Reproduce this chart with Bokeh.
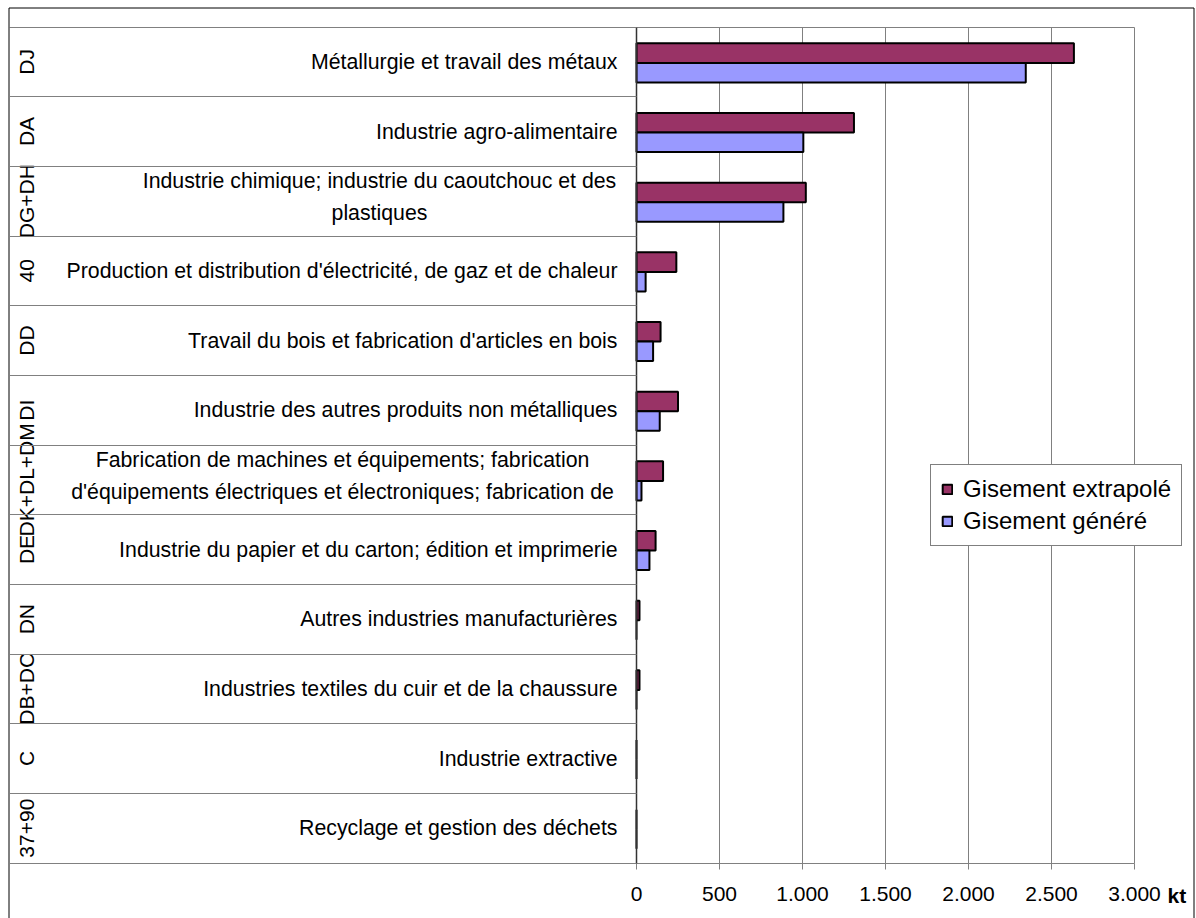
import math
from bokeh.plotting import figure
from bokeh.models import Range1d, LinearAxis, FixedTicker, Grid, ColumnDataSource
from bokeh.core.properties import value
from bokeh.embed import file_html
from bokeh.resources import INLINE

# ---------------- data ----------------
codes = ["DJ", "DA", "DG+DH", "40", "DD", "DI", "DK+DL+DM", "DE", "DN", "DB+DC", "C", "37+90"]
labels = [
    "Métallurgie et travail des métaux",
    "Industrie agro-alimentaire",
    "Industrie chimique; industrie du caoutchouc et des\nplastiques",
    "Production et distribution d'électricité, de gaz et de chaleur",
    "Travail du bois et fabrication d'articles en bois",
    "Industrie des autres produits non métalliques",
    "Fabrication de machines et équipements; fabrication\nd'équipements électriques et électroniques; fabrication de",
    "Industrie du papier et du carton; édition et imprimerie",
    "Autres industries manufacturières",
    "Industries textiles du cuir et de la chaussure",
    "Industrie extractive",
    "Recyclage et gestion des déchets",
]
extrapole = [2635, 1310, 1020, 240, 145, 250, 160, 115, 18, 18, 0, 0]
genere = [2345, 1005, 885, 55, 100, 140, 30, 78, 0, 0, 0, 0]
series_names = ["Gisement extrapolé", "Gisement généré"]
x_ticks = [0, 500, 1000, 1500, 2000, 2500, 3000]
x_tick_labels = ["0", "500", "1.000", "1.500", "2.000", "2.500", "3.000"]
unit_label = "kt"

# ---------------- layout (pixel geometry) ----------------
W, H = 1196, 918
ORIGIN_PX = 636            # px of value 0
PX_PER_KT = 498 / 3000.0
BAND_PX = 836 / 12.0
TOP_PX = 26.5              # px of top category boundary
BORDER_L, BORDER_T, BORDER_R = 8.5, 7.5, 1193.5
n = len(codes)

def px_to_x(px):
    return (px - ORIGIN_PX) / PX_PER_KT

y_top = n - 0.5
y_bot = -0.5

def py_to_y(py):
    return y_top - (py - TOP_PX) / BAND_PX

x_start, x_end = px_to_x(0), px_to_x(W)
y_start, y_end = py_to_y(H), py_to_y(0)
x_border = px_to_x(BORDER_L)

FONT = value("Liberation Sans")
GRID_COLOR = "#808080"
FS = "21.3px"

p = figure(width=W, height=H, x_range=Range1d(x_start, x_end), y_range=Range1d(y_start, y_end),
           x_axis_type=None, y_axis_type=None, toolbar_location=None, output_backend="svg",
           min_border=0, outline_line_color=None)
p.background_fill_color = "white"
p.border_fill_color = "white"

ypos = [n - 1 - i for i in range(n)]

# vertical grid lines (limited to the category area)
vgrid = Grid(dimension=0, ticker=FixedTicker(ticks=x_ticks[1:]), cross_bounds=(y_bot, y_top),
             grid_line_color=GRID_COLOR, grid_line_width=1)
p.add_layout(vgrid)
# top line of the table
hgrid = Grid(dimension=1, ticker=FixedTicker(ticks=[y_top]), cross_bounds=(x_border, x_ticks[-1]),
             grid_line_color=GRID_COLOR, grid_line_width=1)
p.add_layout(hgrid)

# x axis at the bottom of the table
xaxis = LinearAxis(fixed_location=y_bot, bounds=(x_border, x_ticks[-1]),
                   ticker=FixedTicker(ticks=x_ticks),
                   major_label_overrides={t: l for t, l in zip(x_ticks, x_tick_labels)},
                   axis_line_color=GRID_COLOR, major_tick_line_color=GRID_COLOR,
                   major_tick_in=0, major_tick_out=6, minor_tick_line_color=None,
                   major_label_text_font="Liberation Sans", major_label_text_font_size="21px",
                   major_label_text_color="black", major_label_standoff=18)
p.add_layout(xaxis, "below")

# category axis: ticks extend across the label area as row separators
bounds_ticks = [y_bot + i for i in range(n + 1)]
yaxis = LinearAxis(fixed_location=0, bounds=(y_bot, y_top), ticker=FixedTicker(ticks=bounds_ticks),
                   axis_line_color="#333333", axis_line_width=1.5,
                   major_tick_line_color=GRID_COLOR, major_tick_in=0,
                   major_tick_out=int(ORIGIN_PX - BORDER_L),
                   minor_tick_line_color=None, major_label_text_alpha=0,
                   major_label_text_font_size="1px")
p.add_layout(yaxis, "left")

# bars
BAR_H = 0.28
shift = -0.015
src = ColumnDataSource(dict(y1=[y + BAR_H / 2 + shift for y in ypos], y2=[y - BAR_H / 2 + shift for y in ypos],
                            ext=extrapole, gen=genere))
p.hbar(y="y1", left=0, right="ext", height=BAR_H, source=src, fill_color="#993366",
       line_color="black", line_width=2, legend_label=series_names[0])
p.hbar(y="y2", left=0, right="gen", height=BAR_H, source=src, fill_color="#9999FF",
       line_color="black", line_width=2, legend_label=series_names[1])

# category labels
single = [i for i in range(n) if "\n" not in labels[i]]
multi = [i for i in range(n) if "\n" in labels[i]]
p.text(x=[0] * len(single), y=[ypos[i] for i in single], text=[labels[i] for i in single],
       x_offset=-19, text_align="right", text_baseline="middle",
       text_font=FONT, text_font_size=FS, text_color="black")
multi_center_offsets = {2: -257, 6: -294}
p.text(x=[0] * len(multi), y=[ypos[i] for i in multi], text=[labels[i] for i in multi],
       x_offset=[multi_center_offsets[i] for i in multi], y_offset=-4,
       text_align="center", text_baseline="middle", text_line_height=1.35,
       text_font=FONT, text_font_size=FS, text_color="black")

# rotated codes
p.text(x=[x_start] * n, y=ypos, text=codes, x_offset=26, angle=math.pi / 2,
       text_align="center", text_baseline="middle",
       text_font=FONT, text_font_size="21px", text_color="black")

# unit label
p.text(x=[x_ticks[-1]], y=[y_bot], text=[unit_label], x_offset=33, y_offset=32,
       text_align="left", text_baseline="middle", text_font=FONT, text_font_size="21px",
       text_font_style="bold", text_color="black")

# outer border (left, top, right; bottom is outside the picture)
bx0, bx1 = px_to_x(BORDER_L), px_to_x(BORDER_R)
by0, by1 = y_start, py_to_y(BORDER_T)
p.segment(x0=[bx0, bx0, bx1], y0=[by0, by1, by0], x1=[bx0, bx1, bx1], y1=[by1, by1, by1],
          line_color="black", line_width=1)

# legend
lg = p.legend[0]
lg.location = (930, H - 546)
lg.border_line_color = "black"
lg.border_line_width = 1
lg.background_fill_color = "white"
lg.background_fill_alpha = 1
lg.label_text_font = "Liberation Sans"
lg.label_text_font_size = "24px"
lg.label_text_color = "black"
lg.glyph_width = 12
lg.glyph_height = 12
lg.label_standoff = 10
lg.padding = 10
lg.spacing = 4
lg.margin = 0

open("out.html", "w").write(file_html(p, INLINE))
